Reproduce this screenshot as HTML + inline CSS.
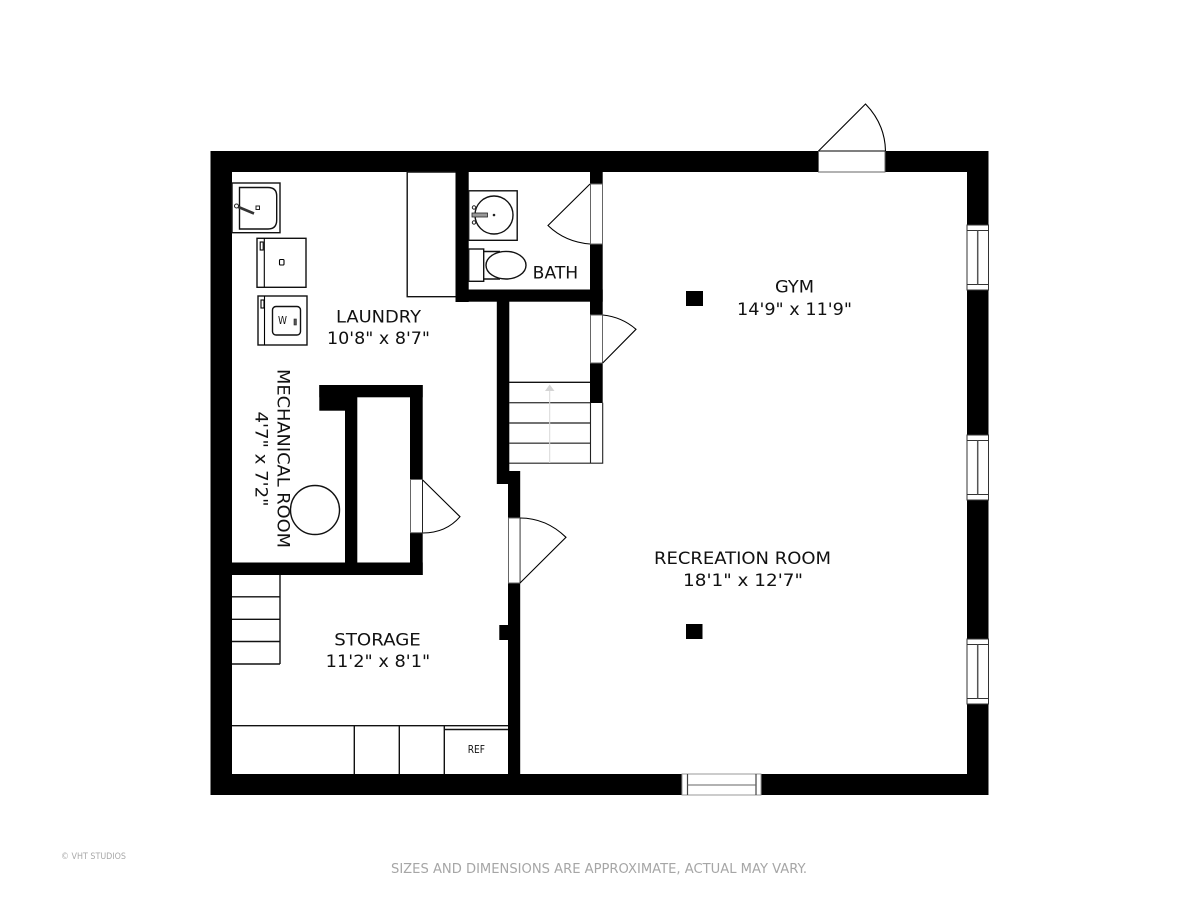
<!DOCTYPE html>
<html>
<head>
<meta charset="utf-8">
<style>
html,body{margin:0;padding:0;background:#fff}
svg{display:block}
text{font-family:"DejaVu Sans","Liberation Sans",sans-serif;fill:#111}
.w{fill:#000}
.l{stroke:#000;stroke-width:1.1;fill:none}
.f{stroke:#111;stroke-width:1.4;fill:none}
.o{fill:#fff;stroke:#666;stroke-width:1}
</style>
</head>
<body>
<svg width="1200" height="900" viewBox="0 0 1200 900" xmlns="http://www.w3.org/2000/svg">
<rect width="1200" height="900" fill="#fff"/>

<!-- Outer walls -->
<rect class="w" x="210.5" y="151" width="778" height="21"/>
<rect class="w" x="210.5" y="774" width="778" height="21"/>
<rect class="w" x="210.5" y="151" width="21.5" height="644"/>
<rect class="w" x="967" y="151" width="21.5" height="644"/>

<!-- Bath walls -->
<rect class="w" x="455.5" y="172" width="13.2" height="130"/>
<rect class="w" x="455.5" y="289.5" width="147.2" height="12.2"/>
<rect class="w" x="590" y="172" width="12.7" height="231"/>

<!-- Stair / laundry wall -->
<rect class="w" x="496.8" y="301" width="12.5" height="183"/>
<rect class="w" x="508" y="471" width="12.2" height="324"/>
<rect class="w" x="499.3" y="625" width="10" height="15"/>

<!-- Mechanical walls -->
<rect class="w" x="319.3" y="385" width="103.4" height="12.3"/>
<rect class="w" x="319.3" y="385" width="30" height="25.7"/>
<rect class="w" x="345" y="385" width="12.3" height="190"/>
<rect class="w" x="410" y="385" width="12.7" height="190"/>
<rect class="w" x="232" y="562.5" width="190.7" height="12.5"/>

<!-- Columns -->
<rect class="w" x="686" y="291" width="17" height="15"/>
<rect class="w" x="686" y="624" width="16.5" height="15"/>

<!-- Door openings -->
<rect class="o" x="590.5" y="184" width="12" height="60"/>
<rect class="o" x="590.5" y="315" width="12" height="48"/>
<rect class="o" x="508.5" y="518" width="11.7" height="65"/>
<rect class="o" x="410.5" y="479.5" width="12" height="53.2"/>
<rect class="o" x="818.5" y="151" width="66.5" height="21"/>
<line x1="818.5" y1="151" x2="885" y2="151" stroke="#333" stroke-width="1.2"/>
<line x1="422.5" y1="479.5" x2="422.5" y2="532.7" stroke="#222" stroke-width="1"/>
<line x1="520" y1="518" x2="520" y2="583" stroke="#555" stroke-width="1"/>

<!-- Door swings -->
<path class="l" d="M590 184 L548 225.5 Q565 242 590 244"/>
<path class="l" d="M602.7 363 L636 329.3 Q622 317 602.7 315"/>
<path class="l" d="M520 583 L566 537.3 Q546 518 520 518"/>
<path class="l" d="M422.7 480 L460 516.7 Q446 533 422.7 533"/>
<path class="l" d="M818.5 151 L865.5 104 Q885 124 885.5 151"/>

<!-- Windows right -->
<g>
<rect x="967" y="225" width="21.5" height="65" fill="#fff" stroke="#333" stroke-width="1"/>
<path d="M967 230.5H988.5M967 284.5H988.5" stroke="#333" stroke-width="1" fill="none"/>
<line x1="977.7" y1="230.5" x2="977.7" y2="284.5" stroke="#555" stroke-width="1.5"/>
<rect x="967" y="435" width="21.5" height="65" fill="#fff" stroke="#333" stroke-width="1"/>
<path d="M967 440.5H988.5M967 494.5H988.5" stroke="#333" stroke-width="1" fill="none"/>
<line x1="977.7" y1="440.5" x2="977.7" y2="494.5" stroke="#555" stroke-width="1.5"/>
<rect x="967" y="639" width="21.5" height="65" fill="#fff" stroke="#333" stroke-width="1"/>
<path d="M967 644.5H988.5M967 698.5H988.5" stroke="#333" stroke-width="1" fill="none"/>
<line x1="977.7" y1="644.5" x2="977.7" y2="698.5" stroke="#555" stroke-width="1.5"/>
</g>
<!-- Window bottom -->
<rect x="682" y="774" width="79" height="21" fill="#fff" stroke="#999" stroke-width="1"/>
<path d="M687.5 774V795M756 774V795" stroke="#444" stroke-width="1.2" fill="none"/>
<line x1="687.5" y1="785" x2="756" y2="785" stroke="#666" stroke-width="1"/>

<!-- Laundry sink -->
<rect class="f" x="232" y="183" width="48" height="49.7" stroke-width="1"/>
<path class="f" d="M239.5 187.5H268Q276.7 187.5 276.7 196V220Q276.7 229 268 229H239.5Z"/>
<line x1="236" y1="206" x2="254" y2="213.5" stroke="#333" stroke-width="2.6"/>
<circle cx="236.5" cy="206" r="2" fill="#fff" stroke="#222"/>
<rect x="256" y="206" width="3.5" height="3.5" fill="#fff" stroke="#222"/>

<!-- Dryer -->
<rect class="f" x="257" y="238.3" width="49" height="49"/>
<line class="l" x1="264.3" y1="238" x2="264.3" y2="287"/>
<rect class="l" x="260.2" y="242" width="3" height="8"/>
<rect class="l" x="279.5" y="259.5" width="4.5" height="5.5" rx="1"/>

<!-- Washer -->
<rect class="f" x="258" y="296" width="49" height="49"/>
<line class="l" x1="264.5" y1="296" x2="264.5" y2="345"/>
<rect class="l" x="261" y="300" width="3" height="8"/>
<rect class="f" x="272.5" y="306.5" width="28" height="28.5" rx="3.5"/>
<rect x="294" y="319" width="2.4" height="6" fill="#555" stroke="#222" stroke-width=".6"/>
<text x="278" y="324" font-size="11" textLength="9" lengthAdjust="spacingAndGlyphs">W</text>

<!-- Laundry cabinet -->
<path class="f" d="M455.5 172H407.2V296.7H455.5" stroke-width="1.2"/>

<!-- Bath sink -->
<rect class="f" x="468.7" y="190.8" width="48.5" height="49.5" stroke-width="1"/>
<circle class="f" cx="494" cy="215" r="19"/>
<rect x="472" y="213" width="15.5" height="4" fill="#999" stroke="#222" stroke-width=".8"/>
<circle cx="474" cy="207.5" r="1.7" fill="#fff" stroke="#222"/>
<circle cx="474" cy="222.5" r="1.7" fill="#fff" stroke="#222"/>
<circle cx="494" cy="215" r="1.3" fill="#222"/>

<!-- Toilet -->
<path class="f" d="M483.7 251.5H500M483.7 279H500" stroke-width="1"/>
<rect class="f" x="468.7" y="249" width="15" height="32.3"/>
<ellipse cx="506" cy="265.2" rx="20" ry="13.8" fill="#fff" stroke="#111" stroke-width="1.4"/>

<!-- Stairs -->
<path d="M509 382.3H590" stroke="#111" stroke-width="1.3"/>
<path d="M509 402.7H590M509 423H590M509 443.2H590" stroke="#444" stroke-width="1.4"/>
<path d="M509 463.2H602.7V402.7M590.5 402.7V463.2" stroke="#222" stroke-width="1.1" fill="none"/>
<line x1="549.7" y1="391" x2="549.7" y2="463" stroke="#d8d8d8" stroke-width="1"/>
<polygon points="549.7,384.5 545,391 554.5,391" fill="#d4d4d4"/>

<!-- Boiler -->
<circle class="f" cx="315" cy="510" r="24.5"/>

<!-- Storage stairs -->
<path class="f" d="M232 596.8H280M232 619.3H280M232 641.5H280M232 664H280M280 575V664" stroke-width="1.2"/>

<!-- Storage cabinets -->
<path class="f" d="M232 725.7H508M354.3 725.7V774M399.3 725.7V774M444.3 725.7V774M444.3 729.5H508" stroke-width="1.2"/>
<text x="467.7" y="753" font-size="10.5" textLength="17.3" lengthAdjust="spacingAndGlyphs">REF</text>

<!-- Labels -->
<text x="336" y="322.3" font-size="17" textLength="85" lengthAdjust="spacingAndGlyphs">LAUNDRY</text>
<text x="327" y="344" font-size="17" textLength="103" lengthAdjust="spacingAndGlyphs">10'8" x 8'7"</text>
<text x="775" y="292.5" font-size="17" textLength="39" lengthAdjust="spacingAndGlyphs">GYM</text>
<text x="737" y="315" font-size="17" textLength="115" lengthAdjust="spacingAndGlyphs">14'9" x 11'9"</text>
<text x="532.7" y="278.7" font-size="17" textLength="45.5" lengthAdjust="spacingAndGlyphs">BATH</text>
<text x="654" y="564" font-size="17" textLength="177" lengthAdjust="spacingAndGlyphs">RECREATION ROOM</text>
<text x="683" y="586" font-size="17" textLength="120" lengthAdjust="spacingAndGlyphs">18'1" x 12'7"</text>
<text x="334.3" y="645.7" font-size="17" textLength="86.5" lengthAdjust="spacingAndGlyphs">STORAGE</text>
<text x="325.7" y="667" font-size="17" textLength="104.5" lengthAdjust="spacingAndGlyphs">11'2" x 8'1"</text>
<text transform="translate(277.5 369) rotate(90)" font-size="17" textLength="179" lengthAdjust="spacingAndGlyphs">MECHANICAL ROOM</text>
<text transform="translate(255.5 411.5) rotate(90)" font-size="17" textLength="95" lengthAdjust="spacingAndGlyphs">4'7" x 7'2"</text>

<!-- Footer -->
<text x="61" y="859" font-size="8.5" textLength="65" lengthAdjust="spacingAndGlyphs" style="fill:#a8a8a8">© VHT STUDIOS</text>
<text x="391" y="873" font-size="13" textLength="416" lengthAdjust="spacingAndGlyphs" style="fill:#a6a6a6">SIZES AND DIMENSIONS ARE APPROXIMATE, ACTUAL MAY VARY.</text>
</svg>
</body>
</html>
